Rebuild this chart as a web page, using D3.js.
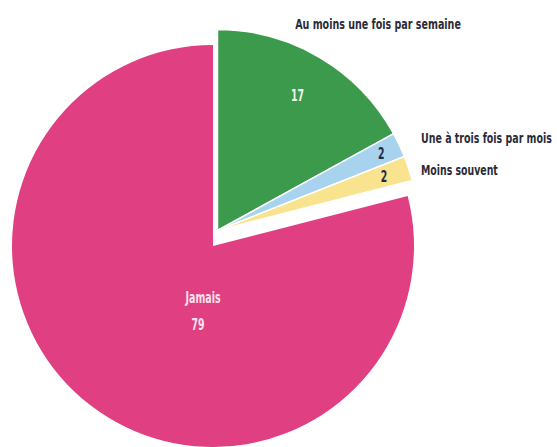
<!DOCTYPE html>
<html>
<head>
<meta charset="utf-8">
<script src="https://cdn.jsdelivr.net/npm/d3@7"></script>
<style>
  body { margin: 0; background: #fff; }
  svg { display: block; }
</style>
</head>
<body>
<div id="chart"></div>
<script>
// Chart data
const categories = ['Au moins une fois par semaine', 'Une à trois fois par mois', 'Moins souvent', 'Jamais'];
const values = [17, 2, 2, 79];
const colors = ['#3b9a4b', '#a8d3ef', '#f9e38f', '#e03f82'];

// Size and layout
const w = 557;
const h = 447;
const cx = 213;
const cy = 246;
const radius = 201;
// offset of the exploded small slices
const explode = [4.5, -15.5];

const font = '"DejaVu Sans Condensed", "Liberation Sans Narrow", sans-serif';

const data = categories.map((c, i) => ({ name: c, value: values[i], color: colors[i] }));

const pie = d3.pie().sort(null).value((d) => d.value);
const arcs = pie(data);

const arc = d3.arc().innerRadius(0).outerRadius(radius);

const svg = d3.select('#chart')
    .append('svg')
    .attr('width', w)
    .attr('height', h);

const g = svg.append('g')
    .attr('transform', 'translate(' + cx + ',' + cy + ')');

// Slices: all but the last (Jamais) are pulled out together
const slices = g.selectAll('g.slice')
    .data(arcs)
    .enter()
    .append('g')
    .attr('class', 'slice')
    .attr('transform', (d, i) => i < arcs.length - 1 ? 'translate(' + explode[0] + ',' + explode[1] + ')' : null);

slices.append('path')
    .attr('d', arc)
    .attr('fill', (d) => d.data.color)
    .attr('stroke', '#fff')
    .attr('stroke-width', (d, i) => i < arcs.length - 1 ? 1.5 : 0);

// Narrow text: draw at normal width, then squeeze horizontally to a target width
function narrowText(parent, text, x, y, anchor, width, size, fill) {
    const t = parent.append('g')
        .attr('transform', 'translate(' + x + ',' + y + ')')
        .append('text')
        .attr('text-anchor', anchor)
        .attr('dy', '0.35em')
        .style('font-family', font)
        .style('font-weight', 'bold')
        .style('font-size', size + 'px')
        .style('fill', fill)
        .text(text);
    const natural = t.node().getComputedTextLength();
    t.attr('transform', 'scale(' + (width / natural) + ',1)');
    return t;
}

// Value labels inside the slices
const labelRadius = [157, 181, 175];
const labelColors = ['#f2f7ee', '#1f2a48', '#1f2a48'];

slices.filter((d, i) => i < arcs.length - 1)
    .each(function (d, i) {
        const a = (d.startAngle + d.endAngle) / 2;
        const r = labelRadius[i];
        narrowText(d3.select(this), d.data.value, Math.sin(a) * r, -Math.cos(a) * r,
            'middle', String(d.data.value).length * 6.5, 15, labelColors[i]);
    });

// Jamais label
const last = arcs[arcs.length - 1];
const jamaisAngle = Math.PI * 1.06;
narrowText(g, last.data.name, Math.sin(jamaisAngle) * 53, -Math.cos(jamaisAngle) * 53,
    'middle', 35, 15, '#fbe3ee');
narrowText(g, last.data.value, Math.sin(jamaisAngle) * 80, -Math.cos(jamaisAngle) * 80,
    'middle', 13, 15, '#fbe3ee');

// Category labels outside the pie
narrowText(svg, categories[0], 378, 24, 'middle', 166, 14, '#2b2b38');
narrowText(svg, categories[1], 421, 138, 'start', 131, 14, '#2b2b38');
narrowText(svg, categories[2], 421, 170, 'start', 77, 14, '#2b2b38');
</script>
</body>
</html>
